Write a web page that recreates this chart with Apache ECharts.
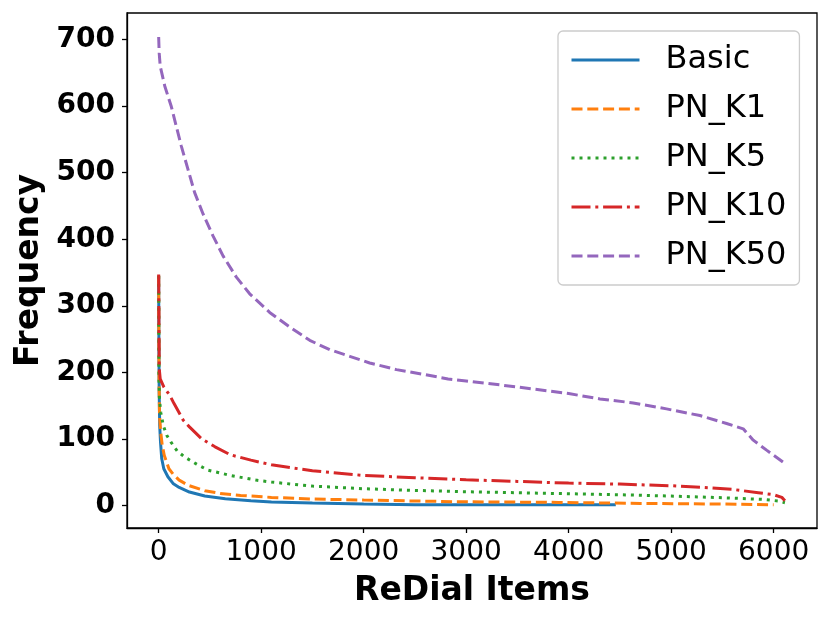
<!DOCTYPE html>
<html>
<head>
<meta charset="utf-8">
<title>ReDial Items frequency</title>
<script src="https://cdn.jsdelivr.net/npm/echarts@6/dist/echarts.min.js"></script>
<style>
  html, body { margin: 0; padding: 0; background: #fff; }
  #chart { width: 831px; height: 623px; }
</style>
</head>
<body>
<div id="chart"></div>
<script>
// series names, in drawing order
var seriesNames = ["Basic", "PN_K1", "PN_K5", "PN_K10", "PN_K50"];
var seriesColors = ["#1f77b4", "#ff7f0e", "#2ca02c", "#d62728", "#9467bd"];

// values: item index (x) and frequency (y)
var basicX = [0, 2, 5, 10, 18, 30, 50, 90, 140, 200, 300, 450, 650, 900, 1100, 1500, 2000, 2500, 3500, 4460];
var basicY = [345, 250, 170, 120, 95, 70, 55, 43, 33, 27, 20, 14, 10, 7, 5, 3.5, 2, 1, 1, 1];

var k1X = [0, 3, 8, 20, 35, 55, 100, 140, 200, 290, 450, 600, 800, 1100, 1500, 2000, 2900, 3900, 4700, 5500, 6000];
var k1Y = [345, 200, 135, 110, 90, 75, 55, 47, 38, 30, 22, 18, 15, 12, 9.5, 8, 5.5, 4.5, 3, 2, 1];

var k5X = [0, 3, 8, 20, 45, 80, 120, 180, 250, 370, 480, 700, 950, 1100, 1500, 2000, 2500, 3000, 3500, 4000, 4500, 5000, 5500, 5900, 6050, 6110];
var k5Y = [345, 190, 160, 140, 120, 105, 95, 82, 73, 62, 53, 45, 38, 35, 29, 25, 22.5, 20.5, 19, 17.5, 16, 14, 11.5, 9, 6.5, 4];

var k10X = [0, 3, 6, 15, 50, 110, 150, 240, 300, 420, 550, 700, 900, 1100, 1500, 2000, 2500, 3000, 3500, 4000, 4500, 5000, 5300, 5600, 5850, 6000, 6080, 6110];
var k10Y = [347, 260, 205, 190, 178, 165, 153, 128, 118, 100, 88, 76, 68, 61, 52, 45, 41.5, 38.5, 36, 33.5, 32, 29.5, 27, 24, 19, 16, 12, 7];

var k50X = [0, 5, 15, 60, 124, 173, 221, 286, 351, 433, 530, 628, 758, 888, 1083, 1279, 1474, 1669, 1864, 2059, 2320, 2580, 2824, 3000, 3500, 4000, 4305, 4630, 4955, 5281, 5541, 5703, 5801, 5931, 6110];
var k50Y = [704, 680, 660, 630, 599, 569, 540, 505, 470, 438, 405, 375, 343, 318, 290, 268, 248, 234, 224, 214, 204, 197, 190, 187, 178, 168, 160, 154, 145, 135, 123, 115, 98, 83, 63];

// tick labels
var xTicks = [0, 1000, 2000, 3000, 4000, 5000, 6000];
var yTicks = [0, 100, 200, 300, 400, 500, 600, 700];

var seriesX = [basicX, k1X, k5X, k10X, k50X];
var seriesY = [basicY, k1Y, k5Y, k10Y, k50Y];
var dashes = ["solid", [11, 4.8], [3, 5], [19, 4.8, 3, 4.8], [11, 4.8]];

function pairs(xs, ys) {
  var out = [];
  for (var i = 0; i < xs.length; i++) out.push([xs[i], ys[i]]);
  return out;
}

var font = "DejaVu Sans";

var series = seriesNames.map(function (name, i) {
  return {
    name: name,
    type: "line",
    data: pairs(seriesX[i], seriesY[i]),
    symbol: "none",
    showSymbol: false,
    color: seriesColors[i],
    lineStyle: { width: 3, type: dashes[i], color: seriesColors[i] },
    animation: false,
    z: 2 + i
  };
});

var chart = echarts.init(document.getElementById("chart"), null, { renderer: "canvas" });

chart.setOption({
  backgroundColor: "#ffffff",
  animation: false,
  grid: {
    left: 127, right: 14, top: 13, bottom: 95,
    containLabel: false,
    outerBoundsMode: "none",
    show: true,
    borderColor: "#000",
    borderWidth: 1.3,
    backgroundColor: "transparent"
  },
  legend: {
    data: seriesNames,
    orient: "vertical",
    left: 558,
    top: 31,
    itemWidth: 68,
    itemHeight: 12,
    itemGap: 17,
    padding: [13, 13, 13, 12],
    backgroundColor: "rgba(255,255,255,0.8)",
    borderColor: "#cccccc",
    borderWidth: 1.3,
    borderRadius: 5,
    selectedMode: false,
    itemStyle: { opacity: 0 },
    lineStyle: { width: 3 },
    textStyle: {
      fontFamily: font,
      fontSize: 32,
      lineHeight: 32,
      color: "#000",
      padding: [0, 0, 0, 21]
    }
  },
  xAxis: {
    type: "value",
    min: -309,
    max: 6423,
    name: "ReDial Items",
    nameLocation: "middle",
    nameGap: 47,
    nameTextStyle: { fontFamily: font, fontSize: 33, fontWeight: "bold", color: "#000" },
    axisLine: { show: true, onZero: false, lineStyle: { color: "#000", width: 1.3 } },
    axisTick: { show: true, length: 5, lineStyle: { color: "#000", width: 1.3 }, customValues: xTicks },
    axisLabel: {
      fontFamily: font, fontSize: 28, color: "#000", margin: 11, customValues: xTicks,
      formatter: function (v) { return String(v); }
    },
    splitLine: { show: false }
  },
  yAxis: {
    type: "value",
    min: -34,
    max: 740,
    name: "Frequency",
    nameLocation: "middle",
    nameGap: 77,
    nameTextStyle: { fontFamily: font, fontSize: 33, fontWeight: "bold", color: "#000" },
    axisLine: { show: true, onZero: false, lineStyle: { color: "#000", width: 1.3 } },
    axisTick: { show: true, length: 5, lineStyle: { color: "#000", width: 1.3 }, customValues: yTicks },
    axisLabel: {
      fontFamily: font, fontSize: 28, fontWeight: "bold", color: "#000", margin: 12, customValues: yTicks,
      formatter: function (v) { return String(v); }
    },
    splitLine: { show: false }
  },
  series: series
});
</script>
</body>
</html>
